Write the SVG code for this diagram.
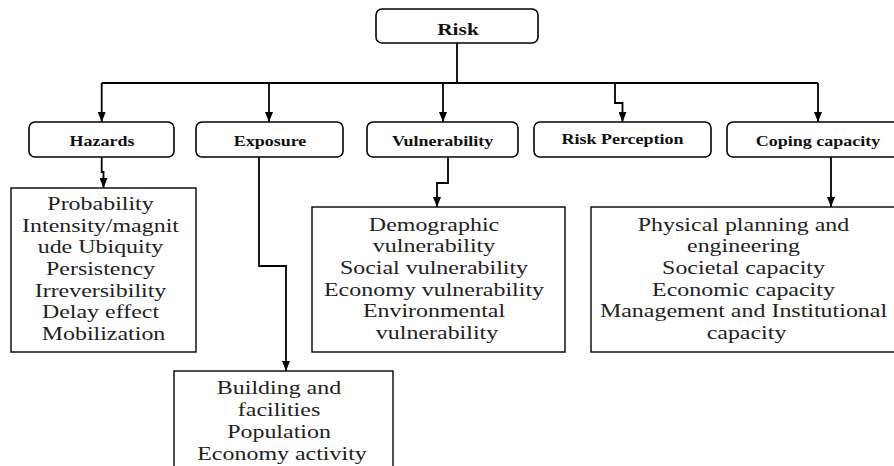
<svg xmlns="http://www.w3.org/2000/svg" width="894" height="466" viewBox="0 0 894 466">
<style>
.node{fill:#fff;stroke:#000;stroke-width:1.6}
.box{fill:#fff;stroke:#000;stroke-width:1.4}
.lbl{font-weight:bold;font-size:15px;text-anchor:middle;fill:#111}
.txt{font-size:19px;text-anchor:middle;fill:#222}
.con{fill:none;stroke:#000;stroke-width:1.8}
</style>
<defs>
<marker id="ah" markerWidth="10" markerHeight="8" refX="10" refY="4" orient="auto" markerUnits="userSpaceOnUse">
<path d="M0,0 L10,4 L0,8 z" fill="#000"/>
</marker>
</defs>
<rect width="894" height="466" fill="#fff"/>
<g id="connectors">
<path class="con" d="M457,43 V83"/>
<path class="con" d="M101.7,83 H818"/>
<path class="con" d="M101.7,83 V122" marker-end="url(#ah)"/>
<path class="con" d="M269,83 V122" marker-end="url(#ah)"/>
<path class="con" d="M443,83 V122" marker-end="url(#ah)"/>
<path class="con" d="M615,83 V103 H622.5 V122" marker-end="url(#ah)"/>
<path class="con" d="M818,83 V122" marker-end="url(#ah)"/>
<path class="con" d="M101.7,157 V172 H103.5 V188" marker-end="url(#ah)"/>
<path class="con" d="M259,157 V266 H286 V371" marker-end="url(#ah)"/>
<path class="con" d="M448,157 V183 H437 V207" marker-end="url(#ah)"/>
<path class="con" d="M831,157 V207" marker-end="url(#ah)"/>
</g>
<g font-family="Liberation Serif, Times New Roman, serif">
<g id="risk">
<rect class="node" x="376" y="9" width="162" height="34" rx="6"/>
<text class="lbl" font-family="Liberation Serif, serif" style="font-size:16.5px" transform="translate(458,0) scale(1.3,1)" x="0" y="35">Risk</text>
</g>
<g id="hazards">
<rect class="node" x="29" y="122" width="145" height="35" rx="6"/>
<text class="lbl" font-family="Liberation Serif, serif" transform="translate(102,0) scale(1.2,1)" x="0" y="146">Hazards</text>
</g>
<g id="exposure">
<rect class="node" x="196" y="122" width="147" height="35" rx="6"/>
<text class="lbl" font-family="Liberation Serif, serif" transform="translate(270,0) scale(1.2,1)" x="0" y="146">Exposure</text>
</g>
<g id="vulnerability">
<rect class="node" x="367" y="122" width="151" height="35" rx="6"/>
<text class="lbl" font-family="Liberation Serif, serif" transform="translate(442.7,0) scale(1.2,1)" x="0" y="146">Vulnerability</text>
</g>
<g id="risk-perception">
<rect class="node" x="534" y="122" width="177" height="35" rx="6"/>
<text class="lbl" font-family="Liberation Serif, serif" transform="translate(622.5,0) scale(1.2,1)" x="0" y="144.5">Risk Perception</text>
</g>
<g id="coping-capacity">
<rect class="node" x="727" y="122" width="182" height="35" rx="6"/>
<text class="lbl" font-family="Liberation Serif, serif" transform="translate(818,0) scale(1.2,1)" x="0" y="146">Coping capacity</text>
</g>
<g id="hazards-factors">
<rect class="box" x="11" y="188" width="185" height="164"/>
<text class="txt" font-family="Liberation Serif, serif" transform="translate(103.5,0) scale(1.26,1)" y="210">
<tspan x="0">Probability</tspan>
<tspan x="0" dy="21.7">Intensity/magnit</tspan>
<tspan x="0" dy="21.7">ude Ubiquity</tspan>
<tspan x="0" dy="21.7">Persistency</tspan>
<tspan x="0" dy="21.7">Irreversibility</tspan>
<tspan x="0" dy="21.7">Delay effect</tspan>
<tspan x="0" dy="21.7">Mobilization</tspan>
</text>
</g>
<g id="exposure-factors">
<rect class="box" x="174" y="371" width="219" height="110"/>
<text class="txt" font-family="Liberation Serif, serif" transform="translate(282,0) scale(1.26,1)" y="394.5">
<tspan x="0">Building and</tspan>
<tspan x="0" dy="21.7">facilities</tspan>
<tspan x="0" dy="21.7">Population</tspan>
<tspan x="0" dy="21.7">Economy activity</tspan>
</text>
</g>
<g id="vulnerability-factors">
<rect class="box" x="312" y="207" width="253" height="145"/>
<text class="txt" font-family="Liberation Serif, serif" transform="translate(437,0) scale(1.26,1)" y="230.7">
<tspan x="0">Demographic</tspan>
<tspan x="0" dy="21.7">vulnerability</tspan>
<tspan x="0" dy="21.7">Social vulnerability</tspan>
<tspan x="0" dy="21.7">Economy vulnerability</tspan>
<tspan x="0" dy="21.7">Environmental</tspan>
<tspan x="0" dy="21.7">vulnerability</tspan>
</text>
</g>
<g id="coping-factors">
<rect class="box" x="591" y="207" width="311" height="145"/>
<text class="txt" font-family="Liberation Serif, serif" transform="translate(746.5,0) scale(1.26,1)" y="230.7">
<tspan x="0">Physical planning and</tspan>
<tspan x="0" dy="21.7">engineering</tspan>
<tspan x="0" dy="21.7">Societal capacity</tspan>
<tspan x="0" dy="21.7">Economic capacity</tspan>
<tspan x="0" dy="21.7">Management and Institutional</tspan>
<tspan x="0" dy="21.7">capacity</tspan>
</text>
</g>
</g>
</svg>
